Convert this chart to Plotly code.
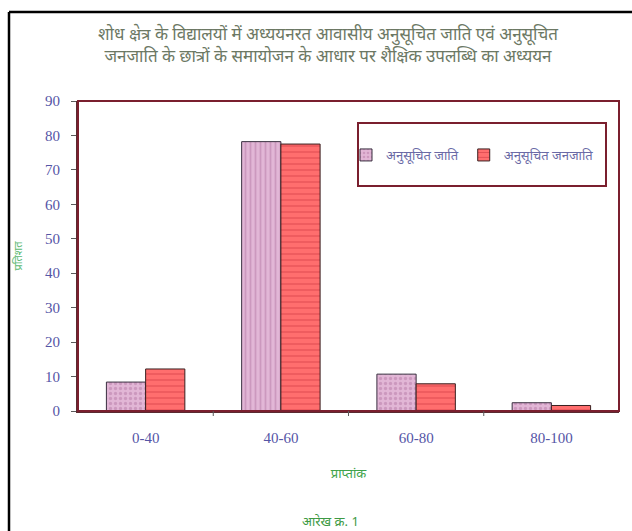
import plotly.graph_objects as go

categories = ["0-40", "40-60", "60-80", "80-100"]
sc_values = [8.4, 78.2, 10.7, 2.4]
st_values = [12.2, 77.5, 7.9, 1.6]
series_names = ["अनुसूचित जाति", "अनुसूचित जनजाति"]
y_ticks = [0, 10, 20, 30, 40, 50, 60, 70, 80, 90]
title_text = "शोध क्षेत्र के विद्यालयों में अध्ययनरत आवासीय अनुसूचित जाति एवं अनुसूचित<br>जनजाति के छात्रों के समायोजन के आधार पर शैक्षिक उपलब्धि का अध्ययन"
x_title = "प्राप्तांक"
y_title = "प्रतिशत"
caption = "आरेख क्र. 1"

W, H = 632, 531
L, R, T, B = 78, 13, 101, 120
pw, ph = W - L - R, H - T - B

def px_x(x):
    return (x - L) / pw

def px_y(y):
    return 1 - (y - T) / ph

fig = go.Figure()
fig.add_trace(go.Bar(
    x=categories, y=sc_values, name=series_names[0],
    marker=dict(color="#dca6cf", line=dict(color="#3a3040", width=1),
                pattern=dict(shape=[".", "|", ".", "."], fgcolor="#b57aa6",
                              bgcolor="#e2b6d6", size=5, solidity=0.35)),
))
fig.add_trace(go.Bar(
    x=categories, y=st_values, name=series_names[1],
    marker=dict(color="#ff6b6b", line=dict(color="#3a2020", width=1),
                pattern=dict(shape="-", fgcolor="#c8303c", bgcolor="#ff6e6e",
                              size=6, solidity=0.2)),
))

shapes = [
    dict(type="line", xref="paper", yref="paper", x0=px_x(9), x1=px_x(640),
         y0=px_y(12), y1=px_y(12), line=dict(color="black", width=2.5)),
    dict(type="line", xref="paper", yref="paper", x0=px_x(9), x1=px_x(9),
         y0=px_y(12), y1=px_y(540), line=dict(color="black", width=2.5)),
    dict(type="rect", xref="paper", yref="paper", x0=0, x1=1, y0=0, y1=1,
         line=dict(color="#7a1f2e", width=2)),
    dict(type="rect", xref="paper", yref="paper", x0=px_x(358), x1=px_x(606),
         y0=px_y(186), y1=px_y(123), line=dict(color="#7a1f2e", width=2),
         fillcolor="white", layer="below"),
]

fig.update_layout(
    width=W, height=H,
    margin=dict(l=L, r=R, t=T, b=B),
    paper_bgcolor="white", plot_bgcolor="white",
    barmode="group", bargap=0.42, bargroupgap=0,
    title=dict(text=title_text, x=px_x(328), xref="paper", xanchor="center",
               y=1 - 40 / H, yanchor="middle",
               font=dict(family="Noto Sans, DejaVu Sans", size=17, color="#6c7864")),
    showlegend=True,
    legend=dict(orientation="h", x=px_x(346), y=px_y(155), xanchor="left", yanchor="middle",
                bgcolor="rgba(0,0,0,0)", borderwidth=0,
                font=dict(family="Noto Sans, DejaVu Sans", size=13, color="#6a6aa6"),
                itemwidth=30, tracegroupgap=0),
    xaxis=dict(showgrid=False, ticks="", ticklabelstandoff=12,
               tickfont=dict(family="Liberation Serif", size=15, color="#5555a6"),
               showline=True, linecolor="#5a2a30", linewidth=2,
               title=dict(text=x_title, standoff=24,
                          font=dict(family="Noto Sans, DejaVu Sans", size=13, color="#3ea34a"))),
    yaxis=dict(range=[0, 90], tickvals=y_ticks, showgrid=False, zeroline=False,
               ticks="outside", ticklen=5, tickcolor="#5a5a5a", ticklabelstandoff=8,
               tickfont=dict(family="Liberation Serif", size=15, color="#5555a6"),
               showline=True, linecolor="#5a2a30", linewidth=2,
               title=dict(text=y_title, standoff=20,
                          font=dict(family="Noto Sans, DejaVu Sans", size=11, color="#5cb870"))),
    shapes=shapes,
    annotations=[dict(text=caption, xref="paper", yref="paper", x=px_x(330), y=px_y(521),
                      showarrow=False, xanchor="center", yanchor="middle",
                      font=dict(family="Noto Sans, DejaVu Sans", size=13, color="#3e9a44"))],
)

for i in range(1, len(categories)):
    fig.add_shape(type="line", xref="x", yref="paper", x0=i - 0.5, x1=i - 0.5,
                  y0=0, y1=px_y(416), line=dict(color="#5a5a5a", width=1))

fig.write_html("out.html")
